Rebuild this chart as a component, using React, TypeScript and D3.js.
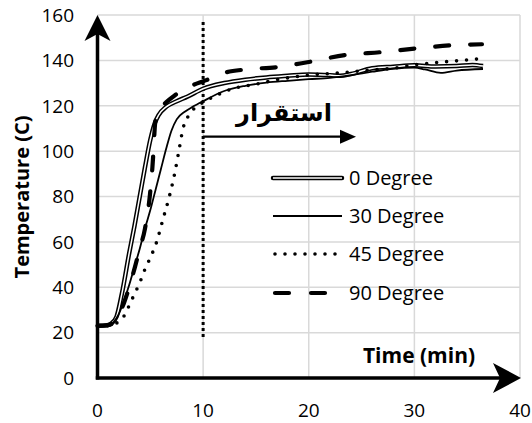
import React from "react";
import * as d3 from "d3";

const W = 532;
const H = 423;

const xTicks = [0, 10, 20, 30, 40];
const yTicks = [0, 20, 40, 60, 80, 100, 120, 140, 160];

const seriesNames = ["0 Degree", "30 Degree", "45 Degree", "90 Degree"];

const t0 = [0, 0.8, 1.3, 1.8, 2.3, 3, 3.5, 4, 4.5, 5, 5.4, 5.8, 6.5, 7.5, 8.5, 10, 12, 14, 16, 18, 20, 22, 23, 24, 26, 28, 30, 32, 34, 35.5, 36.5];
const v0 = [23, 23.2, 24, 27, 37, 55, 67, 80, 93, 105, 112, 116, 119.5, 122, 124, 127.5, 130, 131.5, 132.5, 133.2, 133.8, 133.5, 133.2, 134, 136.5, 137.2, 137.8, 137.3, 137.5, 138, 137.5];

const t30 = [0, 1, 1.5, 2, 2.5, 3, 3.5, 4, 4.5, 5, 5.5, 6, 6.5, 7, 7.5, 8.3, 9, 10, 12, 14, 16, 18, 20, 22, 24, 26, 28, 30, 31, 32.5, 34, 36.5];
const v30 = [23, 23.3, 24.5, 28, 34, 41, 49, 57, 66, 74, 83, 92, 101, 109, 114, 117.5, 119.5, 122, 126.5, 128.8, 130.2, 131, 131.7, 132.3, 133.5, 135, 136.3, 136.8, 136, 134.5, 135.5, 136.2];

const t45 = [0, 1, 1.5, 1.9, 2.6, 3, 3.5, 4, 4.5, 5, 5.6, 6.2, 6.8, 7.3, 7.7, 8.1, 8.6, 9.2, 10, 11, 12.8, 15, 17, 20, 23, 26, 28, 30, 32, 34, 36.5];
const v45 = [23, 23, 23.5, 24.5, 28, 32, 37, 42, 48, 53, 60, 70, 80, 90, 100, 110, 115.5, 119, 121.5, 124, 127.5, 129.5, 131.5, 133.5, 134.5, 135.8, 136.5, 138, 139, 139.8, 140.8];

const t90 = [0, 1, 1.5, 2, 2.5, 3, 3.55, 4, 4.5, 4.97, 5.2, 5.3, 5.45, 5.7, 6.5, 7.3, 8.5, 10.3, 12, 14, 17, 20, 23.4, 27, 30, 33.7, 36.4];
const v90 = [23, 23.3, 24.5, 28, 33, 40, 49, 57, 66, 81, 93, 100, 112, 117, 121.5, 124.5, 128, 131.3, 134.5, 136, 137, 139.3, 142.3, 143.7, 145.2, 146.7, 147.1];

const x = d3.scaleLinear().domain([0, 40]).range([97.5, 520]);
const y = d3.scaleLinear().domain([0, 160]).range([378, 15]);

const line = d3
  .line<[number, number]>()
  .x((d) => x(d[0]))
  .y((d) => y(d[1]))
  .curve(d3.curveMonotoneX);

const zip = (a: number[], b: number[]) => a.map((v, i) => [v, b[i]] as [number, number]);

const FONT = "'Open Sans', sans-serif";

export default function App() {
  const p0 = line(zip(t0, v0)) || "";
  const p30 = line(zip(t30, v30)) || "";
  const p45 = line(zip(t45, v45)) || "";
  const p90 = line(zip(t90, v90)) || "";

  const x0 = x(0);
  const y0 = y(0);
  const xMax = x(40);
  const yTop = y(160);

  const legendY = [178, 216, 254, 293];
  const lx1 = 273;
  const lx2 = 342;

  return (
    <svg
      width={W}
      height={H}
      style={{ position: "absolute", left: 0, top: 0, background: "#fff" }}
      xmlns="http://www.w3.org/2000/svg"
    >
      <rect x={0} y={0} width={W} height={H} fill="#fff" />
      {/* grid */}
      {yTicks.filter((t) => t > 0).map((t) => (
        <line key={"gy" + t} x1={x0} x2={xMax} y1={y(t)} y2={y(t)} stroke="#d9d9d9" strokeWidth={1.5} />
      ))}
      {xTicks.filter((t) => t > 0).map((t) => (
        <line key={"gx" + t} x1={x(t)} x2={x(t)} y1={yTop} y2={y0} stroke="#d9d9d9" strokeWidth={1.5} />
      ))}

      {/* tick labels */}
      {yTicks.map((t) => (
        <text key={"ly" + t} x={74} y={y(t)} dy="0.36em" textAnchor="end" fontFamily={FONT} fontSize={19} fill="#000">
          {t}
        </text>
      ))}
      {xTicks.map((t) => (
        <text key={"lx" + t} x={x(t)} y={417} textAnchor="middle" fontFamily={FONT} fontSize={19} fill="#000">
          {t}
        </text>
      ))}

      {/* vertical dotted marker */}
      <line x1={x(10)} x2={x(10)} y1={22} y2={338} stroke="#000" strokeWidth={3} strokeDasharray="3,3" />

      {/* series */}
      <path d={p0} fill="none" stroke="#000" strokeWidth={4.5} />
      <path d={p0} fill="none" stroke="#fff" strokeWidth={1.5} />
      <path d={p30} fill="none" stroke="#000" strokeWidth={1.8} />
      <path d={p45} fill="none" stroke="#000" strokeWidth={3.6} strokeDasharray="0,10" strokeLinecap="round" />
      <path d={p90} fill="none" stroke="#000" strokeWidth={4.2} strokeDasharray="14,21" strokeLinecap="round" />

      {/* axes */}
      <line x1={x0} x2={x0} y1={y0 + 1.5} y2={yTop + 12} stroke="#000" strokeWidth={3.5} />
      <path d={`M${x0},${yTop} L${x0 - 13},${yTop + 26} L${x0},${yTop + 19} L${x0 + 13},${yTop + 26} Z`} fill="#000" />
      <line x1={x0 - 1.7} x2={xMax - 12} y1={y0} y2={y0} stroke="#000" strokeWidth={3.5} />
      <path d={`M${xMax + 1},${y0} L${xMax - 27},${y0 - 15} L${xMax - 20},${y0} L${xMax - 27},${y0 + 15} Z`} fill="#000" />

      {/* axis titles */}
      <text x={419} y={363} textAnchor="middle" fontFamily={FONT} fontSize={21} fontWeight="bold" fill="#000">
        Time (min)
      </text>
      <text
        transform={`translate(29,197) rotate(-90)`}
        textAnchor="middle"
        fontFamily={FONT}
        fontSize={20}
        fontWeight="bold"
        fill="#000"
      >
        Temperature (C)
      </text>

      {/* annotation */}
      <text x={284} y={121} textAnchor="middle" fontFamily="'DejaVu Sans', sans-serif" fontSize={24} fontWeight="bold" fill="#000">
        استقرار
      </text>
      <line x1={x(10)} x2={343} y1={136.7} y2={136.7} stroke="#000" strokeWidth={2.3} />
      <path d={`M356,136.7 L340,129.7 L340,143.7 Z`} fill="#000" />

      {/* legend */}
      <line x1={lx1} x2={lx2} y1={legendY[0]} y2={legendY[0]} stroke="#000" strokeWidth={4.5} strokeLinecap="round" />
      <line x1={lx1} x2={lx2} y1={legendY[0]} y2={legendY[0]} stroke="#fff" strokeWidth={1.5} />
      <line x1={lx1} x2={lx2} y1={legendY[1]} y2={legendY[1]} stroke="#000" strokeWidth={1.8} />
      <line x1={lx1 + 2} x2={lx2} y1={legendY[2]} y2={legendY[2]} stroke="#000" strokeWidth={3.6} strokeDasharray="0,10" strokeLinecap="round" />
      <line x1={lx1 + 2} x2={lx2} y1={legendY[3]} y2={legendY[3]} stroke="#000" strokeWidth={4.2} strokeDasharray="14,22" strokeLinecap="round" />
      {seriesNames.map((n, i) => (
        <text key={n} x={349} y={legendY[i]} dy="0.36em" fontFamily={FONT} fontSize={20} fill="#000">
          {n}
        </text>
      ))}
    </svg>
  );
}
